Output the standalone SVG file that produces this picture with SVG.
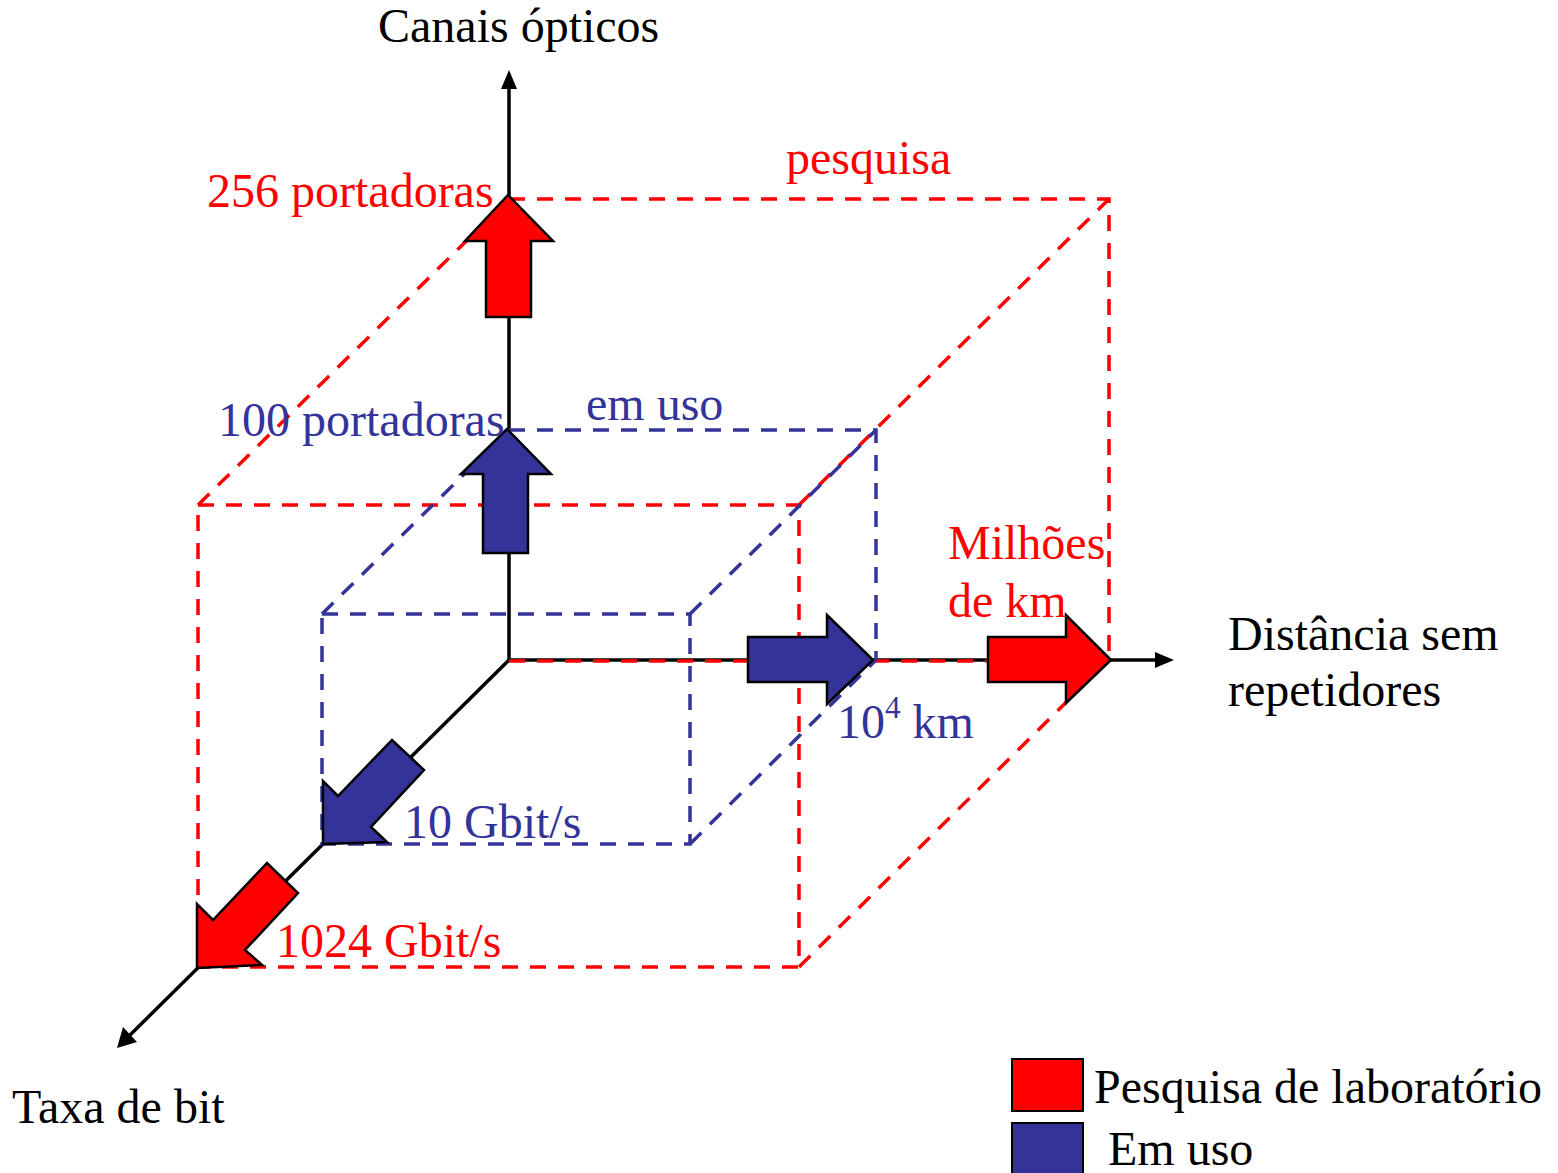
<svg xmlns="http://www.w3.org/2000/svg" width="1558" height="1173" viewBox="0 0 1558 1173">
<defs>
<style>
text{font-family:"Liberation Serif","Times New Roman",serif;font-size:48px}
.k{fill:#000}
.r{fill:#FF0000}
.b{fill:#333399}
.ax{stroke:#000;stroke-width:3.5;fill:none}
.dr{stroke:#FF0000;stroke-width:3.5;stroke-dasharray:16 12;fill:none}
.db{stroke:#333399;stroke-width:3.5;stroke-dasharray:16 12;fill:none}
.ar{fill:#FF0000;stroke:#000;stroke-width:2.5;stroke-linejoin:miter}
.ab{fill:#333399;stroke:#000;stroke-width:2.5;stroke-linejoin:miter}
</style>
</defs>
<rect width="1558" height="1173" fill="#fff"/>
<g id="connectors">
<line class="ax" x1="509" y1="660" x2="509" y2="74"/>
<path d="M509,70 L501,89 L517,89 Z" fill="#000"/>
<line class="ax" x1="509" y1="660" x2="1160" y2="660"/>
<path d="M1174,660 L1155,652 L1155,668 Z" fill="#000"/>
<line class="ax" x1="509" y1="660" x2="127" y2="1038"/>
<path d="M117,1048 L123,1027 L137,1042 Z" fill="#000"/>
</g>
<g id="box-pesquisa">
<path class="dr" d="M509,199 H1109 V660"/>
<line class="dr" x1="509" y1="661" x2="1109" y2="661"/>
<path class="dr" d="M198,505 H799 V967 H198 Z"/>
<line class="dr" x1="198" y1="505" x2="509" y2="199"/>
<line class="dr" x1="799" y1="505" x2="1109" y2="199"/>
<line class="dr" x1="799" y1="967" x2="1109" y2="660"/>
</g>
<g id="box-em-uso">
<path class="db" d="M509,430 H876 V660"/>
<path class="db" d="M322,614 H690 V844 H322 Z"/>
<line class="db" x1="322" y1="614" x2="509" y2="430"/>
<line class="db" x1="690" y1="614" x2="876" y2="430"/>
<line class="db" x1="690" y1="844" x2="876" y2="660"/>
</g>
<g id="arrow-red-up"><path class="ar" d="M508,195 L553,241 L531,241 L531,317 L486,317 L486,241 L465,241 Z"/></g>
<g id="arrow-blue-up"><path class="ab" d="M507,429 L551,474 L528,474 L528,553 L483,553 L483,474 L461,474 Z"/></g>
<g id="arrow-blue-right"><path class="ab" d="M873,660 L827,615 L827,637 L748,637 L748,682 L827,682 L827,704 Z"/></g>
<g id="arrow-red-right"><path class="ar" d="M1111,660 L1066,615 L1066,637 L988,637 L988,682 L1066,682 L1066,703 Z"/></g>
<g id="arrow-blue-diag"><path class="ab" d="M323,844 L323,781 L338,796 L392,740 L424,770 L371,827 L387,842 Z"/></g>
<g id="arrow-red-diag"><path class="ar" d="M197,968 L197,904 L213,920 L267,863 L298,893 L245,950 L262,965 Z"/></g>
<g id="labels">
<text class="k" x="378" y="42">Canais ópticos</text>
<text class="r" x="207" y="207">256 portadoras</text>
<text class="r" x="786" y="174">pesquisa</text>
<text class="b" x="218" y="436">100 portadoras</text>
<text class="b" x="586" y="420">em uso</text>
<text class="r" x="948" y="559">Milhões</text>
<text class="r" x="948" y="617">de km</text>
<text class="k" x="1228" y="650">Distância sem</text>
<text class="k" x="1228" y="706">repetidores</text>
<text class="b" x="837" y="738">10<tspan font-size="31" dy="-20">4</tspan><tspan dy="20"> km</tspan></text>
<text class="b" x="404" y="838">10 Gbit/s</text>
<text class="r" x="276" y="957">1024 Gbit/s</text>
<text class="k" x="12" y="1123">Taxa de bit</text>
</g>
<g id="legend">
<rect x="1012" y="1059" width="71" height="52" fill="#FF0000" stroke="#000" stroke-width="2"/>
<rect x="1012" y="1123" width="71" height="60" fill="#333399" stroke="#000" stroke-width="2"/>
<text class="k" x="1094" y="1103">Pesquisa de laboratório</text>
<text class="k" x="1108" y="1165">Em uso</text>
</g>
</svg>
